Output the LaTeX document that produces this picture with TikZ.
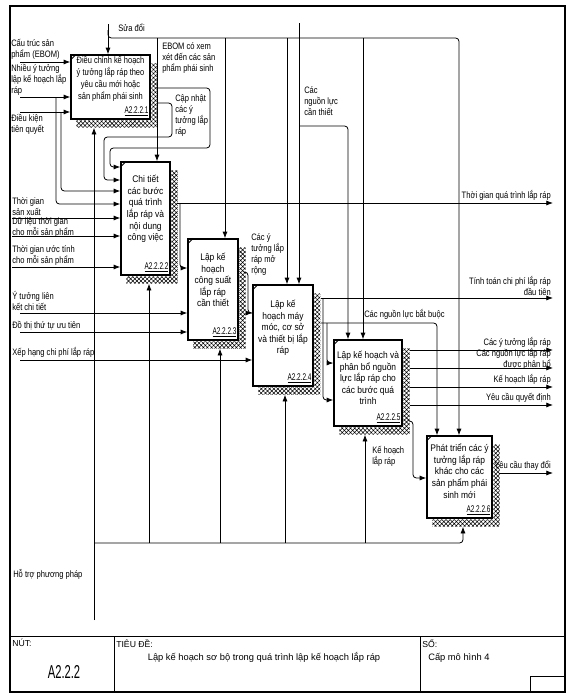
\documentclass[tikz,border=0pt]{standalone}
\usepackage{fontspec}
\setmainfont{Liberation Sans}
\newfontfamily\bxf[FakeStretch=0.88]{Liberation Sans}
\newfontfamily\bxn[FakeStretch=0.8]{Liberation Sans}
\newfontfamily\lbf[FakeStretch=0.81]{Liberation Sans}
\newfontfamily\idf[FakeStretch=0.66]{Liberation Sans}
\newfontfamily\ftf[FakeStretch=0.6]{Liberation Sans}
\usetikzlibrary{arrows.meta,calc,patterns.meta}
\tikzset{
  ln/.style={line width=0.6pt},
  arr/.style={ln,-{Latex[length=5pt,width=3.8pt]}},
  rc/.style={rounded corners=2.5pt},
  box/.style={draw,line width=1.1pt,inner sep=0pt,fill=white},
  btxt/.style={font=\bxf\fontsize{7.2}{8.7}\selectfont,align=center,inner sep=0pt},
  btxtn/.style={font=\bxn\fontsize{7}{8.9}\selectfont,align=center,inner sep=0pt},
  idt/.style={font=\idf\fontsize{7.3}{8}\selectfont,inner sep=0pt,anchor=south east},
  lbl/.style={font=\lbf\fontsize{7}{8.3}\selectfont,align=left,inner sep=0pt},
  lblr/.style={lbl,align=right},
  hatch/.style={pattern={Hatch[angle=45,distance=2.2pt,line width=0.4pt]}},
  ftxt/.style={font=\fontsize{6.5}{7.5}\selectfont,inner sep=0pt},
}
\newcommand\idefdeco[1]{%
  \path[hatch] ($(#1.north east)+(0.6,9)$) -- ($(#1.north east)+(7,9)$) -- ($(#1.south east)+(7,8)$) -- ($(#1.south west)+(6,8)$) -- ($(#1.south west)+(6,0.6)$) -- ($(#1.south east)+(0.6,0.6)$) -- cycle;
  \draw[ln] ($(#1.north west)+(0,6)$) -- ($(#1.north west)+(6,0)$);}
\begin{document}
\begin{tikzpicture}[x=0.75pt,y=-0.75pt]
\useasboundingbox (0,0) rectangle (576,700);
\fill[white] (0,0) rectangle (576,700);
% frame
\draw[line width=0.9pt] (10,6) rectangle (565,692);
\draw[ln] (10,636) -- (565,636);
\draw[ln] (114,636) -- (114,692);
\draw[ln] (420,636) -- (420,692);
\draw[ln] (530,676) rectangle (565,692);
% boxes
\node[box,minimum width=59.25pt,minimum height=48pt] (b1) at (110.5,87) {};
\node[box,minimum width=36.75pt,minimum height=84.75pt] (b2) at (145.5,218.5) {};
\node[box,minimum width=37.5pt,minimum height=75.75pt] (b3) at (213,289.5) {};
\node[box,minimum width=45pt,minimum height=75.75pt] (b4) at (283,335.5) {};
\node[box,minimum width=51pt,minimum height=64.5pt] (b5) at (368,383) {};
\node[box,minimum width=48.75pt,minimum height=61.5pt] (b6) at (459.5,477) {};
\idefdeco{b1}\idefdeco{b2}\idefdeco{b3}\idefdeco{b4}\idefdeco{b5}\idefdeco{b6}
\node[btxtn] (b1t) at (110.5,79) {Điều chỉnh kế hoạch\\ý tưởng lắp ráp theo\\yêu cầu mới hoặc\\sản phẩm phái sinh};
\node[btxt] (b2t) at (145.5,209) {Chi tiết\\các bước\\quá trình\\lắp ráp và\\nội dung\\công việc};
\node[btxt] (b3t) at (213,280) {Lập kế\\hoạch\\công suất\\lắp ráp\\cần thiết};
\node[btxt] (b4t) at (283,328) {Lập kế\\hoạch máy\\móc, cơ sở\\và thiết bị lắp\\ráp};
\node[btxt] (b5t) at (368,378) {Lập kế hoạch và\\phân bổ nguồn\\lực lắp ráp cho\\các bước quá\\trình};
\node[btxt] (b6t) at (459.5,471) {Phát triển các ý\\tưởng lắp ráp\\khác cho các\\sản phẩm phái\\sinh mới};
\node[idt] (b1i) at ($(b1.south east)+(-2,-3)$) {\underline{A2.2.2.1}};
\node[idt] (b2i) at ($(b2.south east)+(-2,-3)$) {\underline{A2.2.2.2}};
\node[idt] (b3i) at ($(b3.south east)+(-2,-3)$) {\underline{A2.2.2.3}};
\node[idt] (b4i) at ($(b4.south east)+(-2,-3)$) {\underline{A2.2.2.4}};
\node[idt] (b5i) at ($(b5.south east)+(-2,-3)$) {\underline{A2.2.2.5}};
\node[idt] (b6i) at ($(b6.south east)+(-2,-3)$) {\underline{A2.2.2.6}};
% controls
\coordinate (sdA) at (108,24);
\draw[arr] (sdA) -- (sdA |- b1.north);
\node[lbl,anchor=base west] (lsd) at (118,31) {Sửa đổi};
\draw[arr,rc] (108,30) |- (459,38) -- (459,0 |- b6.north);
\draw[arr] (157,38) -- (157,0 |- b2.north);
\draw[arr] (225,38) -- (225,0 |- b3.north);
\draw[arr] (287,38) -- (287,0 |- b4.north);
\draw[arr] (363,38) -- (363,0 |- b5.north);
\coordinate (cnA) at (299,23);
\draw[arr] (cnA) -- (cnA |- b4.north);
\draw[arr,rc] (299,126) -| (348,0 |- b5.north);
\node[lbl,anchor=north west] (lcn) at (304,86) {Các\\nguồn lực\\cần thiết};
\node[lbl,anchor=north west] (leb) at (162,42) {EBOM có xem\\xét đến các sản\\phẩm phái sinh};
% box1 inputs
\coordinate (in1) at (20,62);
\draw[arr] (in1) -- (in1 -| b1.west);
\node[lbl,anchor=south west] (lin1) at (11,60) {Cấu trúc sản\\phẩm (EBOM)};
\coordinate (in2) at (20,97);
\draw[arr] (in2) -- (in2 -| b1.west);
\node[lbl,anchor=south west] (lin2) at (11,95.5) {Nhiều ý tưởng\\lập kế hoạch lắp\\ráp};
\coordinate (in3) at (20,112);
\draw[arr] (in3) -- (in3 -| b1.west);
\node[lbl,anchor=north west] (lin3) at (11,114) {Điều kiện\\tiên quyết};
\draw[arr,rc] (56,97) |- (b2.west |- 0,204);
\draw[arr,rc] (61,112) |- (b2.west |- 0,191);
% mechanism
\coordinate (mhA) at (94,620);
\draw[arr] (mhA) -- ($(94,0 |- b1.south)+(0,8)$);
\node[lbl,anchor=base west] (lmh) at (13,577) {Hỗ trợ phương pháp};
\draw[arr,rc] (94,543) -| ($(463,0 |- b6.south)+(0,8)$);
\draw[arr] (149,543) -- ($(149,0 |- b2.south)+(0,8)$);
\draw[arr] (220,543) -- ($(220,0 |- b3.south)+(0,8)$);
\draw[arr] (285,543) -- ($(285,0 |- b4.south)+(0,8)$);
\draw[arr] (365,543) -- ($(365,0 |- b5.south)+(0,8)$);
% box1 feedback to box2
\draw[arr,rc] ($(b1.east |- 0,88)+(7,0)$) -- (210,88) -- (210,148) -- (110,148) -- (110,167) -- (b2.west |- 0,167);
\draw[arr,rc] ($(b1.east |- 0,103)+(7,0)$) -- (172,103) -- (172,137) -- (104,137) -- (104,180) -- (b2.west |- 0,180);
\node[lbl,anchor=north west] (lcu) at (175,94) {Cập nhật\\các ý\\tưởng lắp\\ráp};
% box2 inputs
\coordinate (in4) at (12,218);
\draw[arr] (in4) -- (in4 -| b2.west);
\node[lbl,anchor=south west] (lin4) at (12,216) {Thời gian\\sản xuất};
\coordinate (in5) at (12,236);
\draw[arr] (in5) -- (in5 -| b2.west);
\node[lbl,anchor=south west] (lin5) at (12,237.5) {Dữ liệu thời gian\\cho mỗi sản phẩm};
\coordinate (in6) at (12,267);
\draw[arr] (in6) -- (in6 -| b2.west);
\node[lbl,anchor=south west] (lin6) at (12,266) {Thời gian ước tính\\cho mỗi sản phẩm};
% box2 output
\coordinate (o1) at (553,203);
\draw[arr] ($(b2.east |- o1)+(6,0)$) -- (o1);
\node[lblr,anchor=south east] (lo1) at (551,201) {Thời gian quá trình lắp ráp};
\draw[arr,rc] (180,203) |- (b3.west |- 0,268);
% box3 inputs
\coordinate (in7) at (20,313);
\draw[arr] (in7) -- (in7 -| b3.west);
\node[lbl,anchor=south west] (lin7) at (12,311) {Ý tưởng liên\\kết chi tiết};
\coordinate (in8) at (20,332);
\draw[arr] (in8) -- (in8 -| b3.west);
\node[lbl,anchor=south west] (lin8) at (12,330) {Đồ thị thứ tự ưu tiên};
% box3 output
\draw[arr,rc] ($(b3.east |- 0,272)+(6,0)$) -- (248,272) -- (248,313) -- (b4.west |- 0,313);
\node[lbl,anchor=north west] (lb3) at (251,233) {Các ý\\tưởng lắp\\ráp mở\\rộng};
% box4 input
\coordinate (in9) at (20,360);
\draw[arr] (in9) -- (in9 -| b4.west);
\node[lbl,anchor=south west] (lin9) at (12,358) {Xếp hạng chi phí lắp ráp};
% box4 outputs
\coordinate (o2) at (553,298);
\draw[arr] ($(b4.east |- o2)+(7,0)$) -- (o2);
\node[lblr,anchor=south east] (lo2) at (551,296) {Tính toán chi phí lắp ráp\\đầu tiên};
\draw[arr,rc] ($(b4.east |- 0,323)+(7,0)$) -| (437,0 |- b6.north);
\node[lbl,anchor=south west] (lo3) at (364,320) {Các nguồn lực bắt buộc};
\draw[arr,rc] (323,298) |- (b5.west |- 0,400);
\draw[arr,rc] (327,323) |- (b5.west |- 0,363);
% box5 outputs
\coordinate (o4) at (553,350);
\draw[arr] ($(b5.east |- o4)+(7,0)$) -- (o4);
\node[lblr,anchor=south east] (lo4) at (551,348) {Các ý tưởng lắp ráp};
\coordinate (o5) at (553,368);
\draw[arr] ($(b5.east |- o5)+(7,0)$) -- (o5);
\node[lblr,anchor=south east] (lo5) at (551,370) {Các nguồn lực lắp ráp\\được phân bổ};
\coordinate (o6) at (553,387);
\draw[arr] ($(b5.east |- o6)+(7,0)$) -- (o6);
\node[lblr,anchor=south east] (lo6) at (551,385) {Kế hoạch lắp ráp};
\coordinate (o7) at (553,405);
\draw[arr] ($(b5.east |- o7)+(7,0)$) -- (o7);
\node[lblr,anchor=south east] (lo7) at (551,403) {Yêu cầu quyết định};
\draw[arr,rc] ($(b5.east |- 0,421)+(7,0)$) -- (413,421) |- (b6.west |- 0,478);
\node[lbl,anchor=north west] (lkh) at (372,446) {Kế hoạch\\lắp ráp};
% box6 output
\coordinate (o9) at (553,473);
\draw[arr] ($(b6.east |- o9)+(6,0)$) -- (o9);
\node[lblr,anchor=south east] (lo9) at (551,471) {Yêu cầu thay đổi};
% footer
\node[ftxt,anchor=north west] (fn) at (12,639) {NÚT:};
\node[ftxt,anchor=north west] (ftd) at (116,639) {TIÊU ĐỀ:};
\node[ftxt,anchor=north west] (fso) at (422,639) {SỐ:};
\node[font=\fontsize{7}{8}\selectfont,inner sep=0pt,anchor=base] (ftt) at (264,660) {Lập kế hoạch sơ bộ trong quá trình lập kế hoạch lắp ráp};
\node[font=\fontsize{7}{8}\selectfont,inner sep=0pt,anchor=base west] (fcap) at (428,660) {Cấp mô hình 4};
\node[font=\ftf\fontsize{14}{15}\selectfont,inner sep=0pt] (fid) at (64,672) {A2.2.2};
\end{tikzpicture}
\end{document}
